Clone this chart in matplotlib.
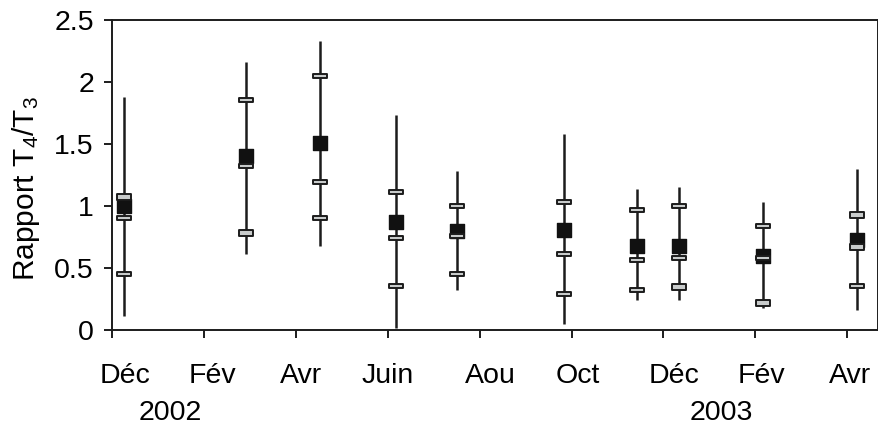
import matplotlib
matplotlib.use("Agg")
import matplotlib.pyplot as plt
from matplotlib.markers import MarkerStyle
from matplotlib.path import Path

plt.rcParams['font.family'] = ['Liberation Sans', 'DejaVu Sans']
plt.rcParams['mathtext.fontset'] = 'custom'
plt.rcParams['mathtext.rm'] = 'Liberation Sans'
plt.rcParams['mathtext.it'] = 'Liberation Sans:italic'

# sampling dates, in months after the first December
month = [0.27, 2.92, 4.53, 6.18, 7.51, 9.84, 11.42, 12.34, 14.17, 16.22]
# T4/T3 ratio per campaign
mean = [1.00, 1.40, 1.505, 0.87, 0.80, 0.81, 0.68, 0.68, 0.60, 0.725]
vmax = [1.88, 2.16, 2.33, 1.73, 1.285, 1.58, 1.14, 1.156, 1.03, 1.30]
vmin = [0.11, 0.61, 0.68, 0.02, 0.32, 0.05, 0.24, 0.24, 0.18, 0.16]
q_hi = [1.07, 1.855, 2.05, 1.11, 1.00, 1.03, 0.97, 1.00, 0.84, 0.93]
q_mid = [0.90, 1.32, 1.19, 0.74, 0.76, 0.61, 0.565, 0.58, 0.58, 0.667]
q_lo = [0.45, 0.78, 0.90, 0.355, 0.45, 0.29, 0.32, 0.35, 0.215, 0.355]

month_ticks = [0, 2, 4, 6, 8, 10, 12, 14, 16]
month_labels = ['Déc', 'Fév', 'Avr', 'Juin', 'Aou', 'Oct', 'Déc', 'Fév', 'Avr']
year_labels = ['2002', '2003']
y_ticks = [0, 0.5, 1, 1.5, 2, 2.5]
y_tick_labels = ['0', '0.5', '1', '1.5', '2', '2.5']

# where the month / year labels sit (they are not centred on the ticks)
label_pos = [0.28, 2.18, 4.11, 5.99, 8.23, 10.13, 12.23, 14.13, 16.06]
year_pos = [1.26, 13.26]
# gray marks drawn a bit thicker in the original: (point, series)
thick = [(0, 'hi'), (1, 'lo'), (7, 'lo'), (8, 'lo'), (9, 'hi'), (9, 'mid')]

FS = 20.5
DARK = '#1c1c1c'


def bar_marker(h):
    verts = [(-1, -h), (1, -h), (1, h), (-1, h), (-1, -h)]
    return MarkerStyle(Path(verts, closed=True), joinstyle='round')


fig = plt.figure(figsize=(8.79, 4.26), dpi=100)
ax = fig.add_axes([112 / 879, 96 / 426, 766 / 879, 310 / 426])

ax.vlines(month, vmin, vmax, color=DARK, lw=1.8, zorder=2)
ax.plot(month, mean, ls='none', marker=MarkerStyle('s', joinstyle='round'),
        ms=9.5, mfc='#111111', mec='#111111', mew=1, zorder=3)

series = {'hi': q_hi, 'mid': q_mid, 'lo': q_lo}
for name, vals in series.items():
    xs, ys, xb, yb = [], [], [], []
    for i, v in enumerate(vals):
        if (i, name) in thick:
            xb.append(month[i])
            yb.append(v)
        else:
            xs.append(month[i])
            ys.append(v)
    ax.plot(xs, ys, ls='none', marker=bar_marker(0.22), ms=10.2,
            mfc='#c8cbcb', mec=DARK, mew=1.4, zorder=4)
    ax.plot(xb, yb, ls='none', marker=bar_marker(0.34), ms=10.6,
            mfc='#c8cbcb', mec=DARK, mew=1.4, zorder=4)

ax.set_xlim(0, 16.67)
ax.set_ylim(0, 2.5)
ax.set_yticks(y_ticks)
ax.set_yticklabels(y_tick_labels, fontsize=FS)
ax.set_xticks(month_ticks)
ax.set_xticklabels([])

for sp in ax.spines.values():
    sp.set_color(DARK)
    sp.set_linewidth(1.4)
ax.tick_params(direction='out', length=6, width=1.4, color=DARK, pad=7)

tr = ax.get_xaxis_transform()
for x, lab in zip(label_pos, month_labels):
    ax.text(x, -0.172, lab, transform=tr, ha='center', va='baseline', fontsize=FS)
for x, lab in zip(year_pos, year_labels):
    ax.text(x, -0.29, lab, transform=tr, ha='center', va='baseline', fontsize=FS)

ax.set_ylabel('Rapport T$_4$/T$_3$', fontsize=21.5)
ax.yaxis.set_label_coords(-0.0914, 0.458)

fig.savefig('out.png', dpi=100)
